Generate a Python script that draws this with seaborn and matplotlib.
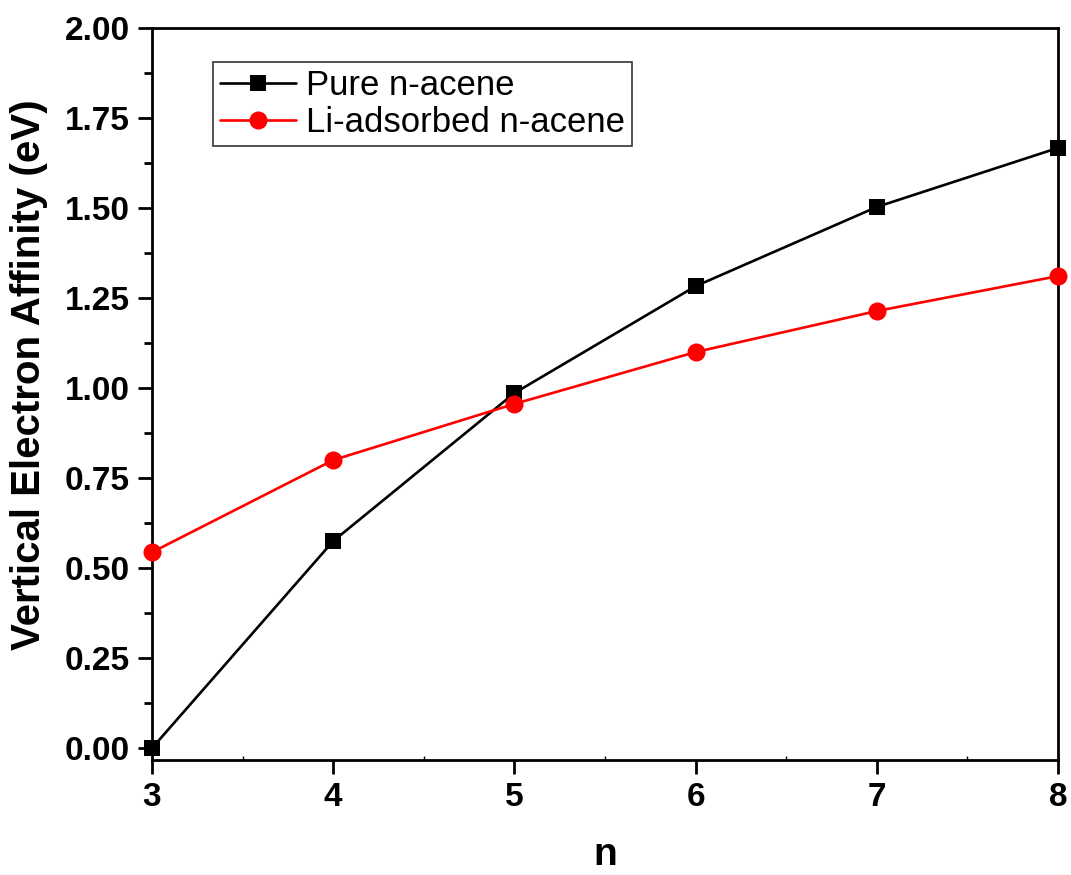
import matplotlib
matplotlib.use("Agg")
import matplotlib.pyplot as plt
import seaborn as sns
import pandas as pd
from matplotlib.ticker import MultipleLocator, FormatStrFormatter

n_values = [3, 4, 5, 6, 7, 8]
pure_acene = [0.0, 0.575, 0.986, 1.283, 1.503, 1.667]
li_adsorbed = [0.544, 0.800, 0.956, 1.100, 1.214, 1.311]
series_names = ["Pure n-acene", "Li-adsorbed n-acene"]

df = pd.DataFrame({
    "n": n_values * 2,
    "vea": pure_acene + li_adsorbed,
    "series": [series_names[0]] * len(n_values) + [series_names[1]] * len(n_values),
})

sns.set_theme(style="white")
plt.rcParams["font.family"] = ["Liberation Sans", "DejaVu Sans"]
plt.rcParams["text.color"] = "black"
plt.rcParams["axes.labelcolor"] = "black"
plt.rcParams["xtick.color"] = "black"
plt.rcParams["ytick.color"] = "black"

fig = plt.figure(figsize=(10.71, 8.75), dpi=100)
ax = fig.add_axes([0.1419, 0.1314, 0.8460, 0.8366])

sns.lineplot(
    data=df, x="n", y="vea", hue="series", style="series",
    palette={series_names[0]: "black", series_names[1]: "#ff0000"},
    markers={series_names[0]: "s", series_names[1]: "o"},
    dashes=False, markersize=13, markeredgewidth=0, linewidth=1.9,
    ax=ax, legend=True, clip_on=False, zorder=3,
)
# Square markers slightly smaller than the circles
for line in ax.get_lines():
    if line.get_marker() == "s":
        line.set_markersize(11.5)

ax.set_xlim(3, 8)
ax.set_ylim(-0.033, 2.0)
ax.xaxis.set_major_locator(MultipleLocator(1))
ax.xaxis.set_minor_locator(MultipleLocator(0.5))
ax.yaxis.set_major_locator(MultipleLocator(0.25))
ax.yaxis.set_minor_locator(MultipleLocator(0.125))
ax.yaxis.set_major_formatter(FormatStrFormatter("%.2f"))

for sp in ax.spines.values():
    sp.set_color("black")
    sp.set_linewidth(2.0)

ax.tick_params(axis="both", which="major", direction="out", length=10, width=2,
               color="black", labelsize=24, pad=6, bottom=True, left=True,
               top=False, right=False, labelcolor="black")
ax.tick_params(axis="y", which="minor", direction="out", length=6, width=2,
               color="black", left=True)
ax.tick_params(axis="x", which="minor", direction="in", length=3, width=1,
               color="black", bottom=True)
for lbl in ax.get_xticklabels() + ax.get_yticklabels():
    lbl.set_fontweight("bold")

ax.set_xlabel("n", fontsize=28, fontweight="bold", labelpad=17)
ax.set_ylabel("Vertical Electron Affinity (eV)", fontsize=29, fontweight="bold")
ax.yaxis.set_label_coords(-0.115, 0.526)

leg = ax.legend(
    loc="upper left", bbox_to_anchor=(0.067, 0.953), fontsize=25,
    frameon=True, fancybox=False, edgecolor="black", borderpad=0.2,
    handlelength=2.2, handletextpad=0.3, labelspacing=0.1, borderaxespad=0,
)
leg.get_frame().set_linewidth(1.2)
for h in leg.get_lines():
    h.set_linewidth(1.9)

fig.savefig("out.png", dpi=100, facecolor="white")
